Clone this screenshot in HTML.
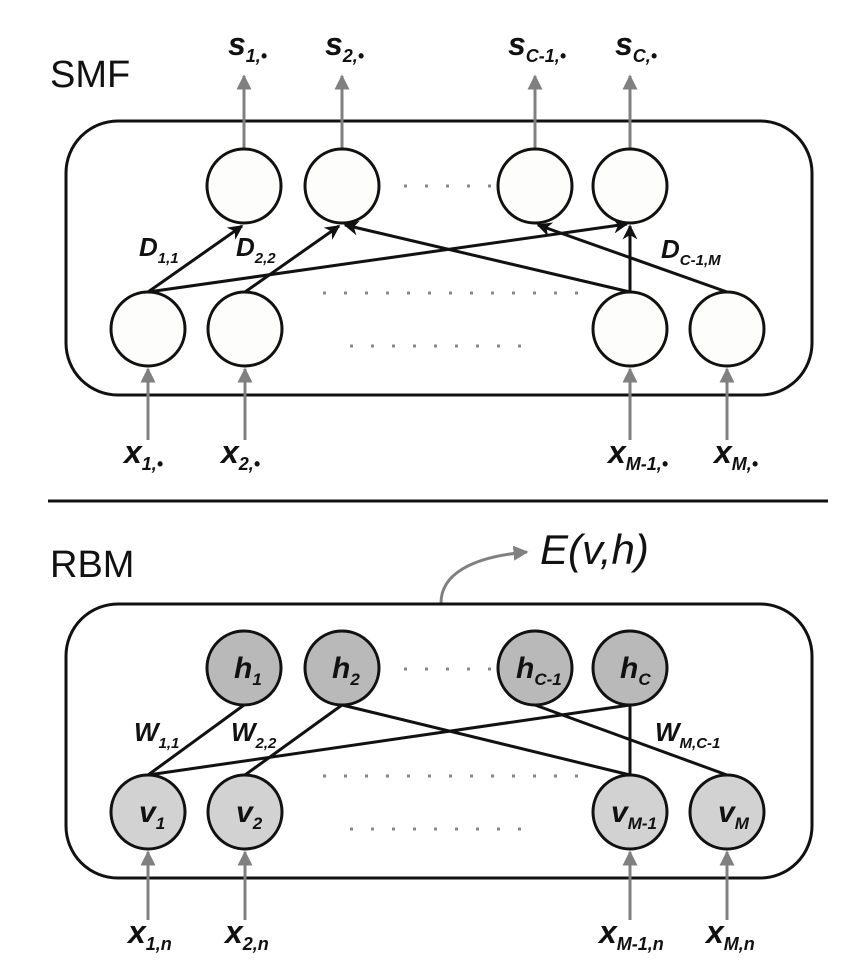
<!DOCTYPE html>
<html><head><meta charset="utf-8"><style>
html,body{margin:0;padding:0;background:#fff;}
svg{display:block;font-family:"Liberation Sans",Arial,sans-serif;}
.it{font-style:italic;font-family:"Liberation Sans Narrow","Liberation Sans",Arial,sans-serif;font-weight:bold;}
</style></head><body>
<svg width="854" height="976" viewBox="0 0 854 976">
<defs>
<marker id="ag" viewBox="0 0 10 10" refX="9" refY="5" markerWidth="5" markerHeight="5" orient="auto"><path d="M0,0 L10,5 L0,10 z" fill="#808080"/></marker>
<marker id="ab" viewBox="0 0 10 10" refX="9" refY="5" markerWidth="5" markerHeight="5" orient="auto"><path d="M0,0 L10,5 L0,10 L3,5 z" fill="#111"/></marker>
</defs>

<g>
<text x="50" y="87" font-size="38" fill="#111">SMF</text>
<rect x="66" y="121" width="746" height="274" rx="52" fill="none" stroke="#111" stroke-width="3"/>
<g stroke="#808080" stroke-width="3" marker-end="url(#ag)">
<line x1="244" y1="148" x2="244" y2="76"/><line x1="342" y1="148" x2="342" y2="76"/>
<line x1="535" y1="148" x2="535" y2="76"/><line x1="630" y1="148" x2="630" y2="76"/>
</g>
<g stroke="#808080" stroke-width="3" marker-end="url(#ag)">
<line x1="148" y1="440" x2="148" y2="369"/><line x1="245" y1="440" x2="245" y2="369"/>
<line x1="630" y1="440" x2="630" y2="369"/><line x1="727" y1="440" x2="727" y2="369"/>
</g>
<g stroke="#111" stroke-width="3" fill="none" marker-end="url(#ab)">
<line x1="148" y1="292" x2="242" y2="226"/>
<line x1="148" y1="292" x2="627" y2="224"/>
<line x1="245" y1="292" x2="339" y2="226"/>
<line x1="630" y1="292" x2="345" y2="225"/>
<line x1="630" y1="292" x2="630" y2="226"/>
<line x1="727" y1="292" x2="538" y2="225"/>
</g>
<g fill="#fdfdfb" stroke="#111" stroke-width="3">
<circle cx="244" cy="186" r="37"/><circle cx="342" cy="186" r="37"/>
<circle cx="535" cy="186" r="37"/><circle cx="630" cy="186" r="37"/>
</g>
<g fill="#fdfdfb" stroke="#111" stroke-width="3">
<circle cx="148" cy="329" r="37"/><circle cx="245" cy="329" r="37"/>
<circle cx="630" cy="329" r="37"/><circle cx="727" cy="329" r="37"/>
</g>
<g stroke="#888" stroke-width="3" stroke-dasharray="3,18">
<line x1="404" y1="186" x2="492" y2="186"/>
<line x1="323" y1="293" x2="580" y2="293"/>
<line x1="350" y1="346" x2="522" y2="346"/>
</g>
<g class="it" fill="#111">
<text x="228" y="55" font-size="32">s<tspan font-size="18" dy="7">1,•</tspan></text>
<text x="325" y="55" font-size="32">s<tspan font-size="18" dy="7">2,•</tspan></text>
<text x="508" y="55" font-size="32">s<tspan font-size="18" dy="7">C-1,•</tspan></text>
<text x="615" y="55" font-size="32">s<tspan font-size="18" dy="7">C,•</tspan></text>
</g>
<g class="it" fill="#111">
<text x="124" y="463" font-size="32">x<tspan font-size="18" dy="7">1,•</tspan></text>
<text x="221" y="463" font-size="32">x<tspan font-size="18" dy="7">2,•</tspan></text>
<text x="608" y="463" font-size="32">x<tspan font-size="18" dy="7">M-1,•</tspan></text>
<text x="714" y="463" font-size="32">x<tspan font-size="18" dy="7">M,•</tspan></text>
</g>
<g class="it" fill="#111">
<text x="139" y="256" font-size="26">D<tspan font-size="15" dy="7">1,1</tspan></text>
<text x="236" y="256" font-size="26">D<tspan font-size="15" dy="7">2,2</tspan></text>
<text x="661" y="258" font-size="26">D<tspan font-size="15" dy="7">C-1,M</tspan></text>
</g>
</g>

<line x1="48" y1="501" x2="828" y2="501" stroke="#111" stroke-width="3"/>

<g>
<text x="50" y="577" font-size="38" fill="#111">RBM</text>
<path d="M441,603 C441,575 470,557 527,552" fill="none" stroke="#808080" stroke-width="3" marker-end="url(#ag)"/>
<text x="540" y="564" font-size="42" class="it" fill="#111" style="font-weight:normal">E(v,h)</text>
<rect x="66" y="604" width="746" height="274" rx="52" fill="none" stroke="#111" stroke-width="3"/>
<g stroke="#808080" stroke-width="3" marker-end="url(#ag)">
<line x1="148" y1="920" x2="148" y2="852"/><line x1="245" y1="920" x2="245" y2="852"/>
<line x1="630" y1="920" x2="630" y2="852"/><line x1="727" y1="920" x2="727" y2="852"/>
</g>
<g stroke="#111" stroke-width="3">
<line x1="148" y1="775" x2="244" y2="705"/>
<line x1="148" y1="775" x2="630" y2="705"/>
<line x1="245" y1="775" x2="342" y2="705"/>
<line x1="630" y1="775" x2="342" y2="705"/>
<line x1="630" y1="775" x2="630" y2="705"/>
<line x1="727" y1="775" x2="535" y2="705"/>
</g>
<g fill="#b9b9b9" stroke="#111" stroke-width="3">
<circle cx="244" cy="668" r="37"/><circle cx="342" cy="668" r="37"/>
<circle cx="535" cy="668" r="37"/><circle cx="630" cy="668" r="37"/>
</g>
<g fill="#d2d2d2" stroke="#111" stroke-width="3">
<circle cx="148" cy="812" r="37"/><circle cx="245" cy="812" r="37"/>
<circle cx="630" cy="812" r="37"/><circle cx="727" cy="812" r="37"/>
</g>
<g stroke="#888" stroke-width="3" stroke-dasharray="3,18">
<line x1="404" y1="669" x2="492" y2="669"/>
<line x1="323" y1="776" x2="580" y2="776"/>
<line x1="350" y1="829" x2="522" y2="829"/>
</g>
<g class="it" fill="#111">
<text x="234" y="678" font-size="30">h<tspan font-size="17" dy="7">1</tspan></text>
<text x="332" y="678" font-size="30">h<tspan font-size="17" dy="7">2</tspan></text>
<text x="516" y="678" font-size="30">h<tspan font-size="17" dy="7">C-1</tspan></text>
<text x="620" y="678" font-size="30">h<tspan font-size="17" dy="7">C</tspan></text>
</g>
<g class="it" fill="#111">
<text x="139" y="822" font-size="30">v<tspan font-size="17" dy="7">1</tspan></text>
<text x="236" y="822" font-size="30">v<tspan font-size="17" dy="7">2</tspan></text>
<text x="611" y="822" font-size="30">v<tspan font-size="17" dy="7">M-1</tspan></text>
<text x="718" y="822" font-size="30">v<tspan font-size="17" dy="7">M</tspan></text>
</g>
<g class="it" fill="#111">
<text x="128" y="943" font-size="32">x<tspan font-size="18" dy="7">1,n</tspan></text>
<text x="225" y="943" font-size="32">x<tspan font-size="18" dy="7">2,n</tspan></text>
<text x="599" y="943" font-size="32">x<tspan font-size="18" dy="7">M-1,n</tspan></text>
<text x="706" y="943" font-size="32">x<tspan font-size="18" dy="7">M,n</tspan></text>
</g>
<g class="it" fill="#111">
<text x="134" y="741" font-size="26">W<tspan font-size="15" dy="7">1,1</tspan></text>
<text x="231" y="741" font-size="26">W<tspan font-size="15" dy="7">2,2</tspan></text>
<text x="655" y="741" font-size="26">W<tspan font-size="15" dy="7">M,C-1</tspan></text>
</g>
</g>
</svg>
</body></html>
